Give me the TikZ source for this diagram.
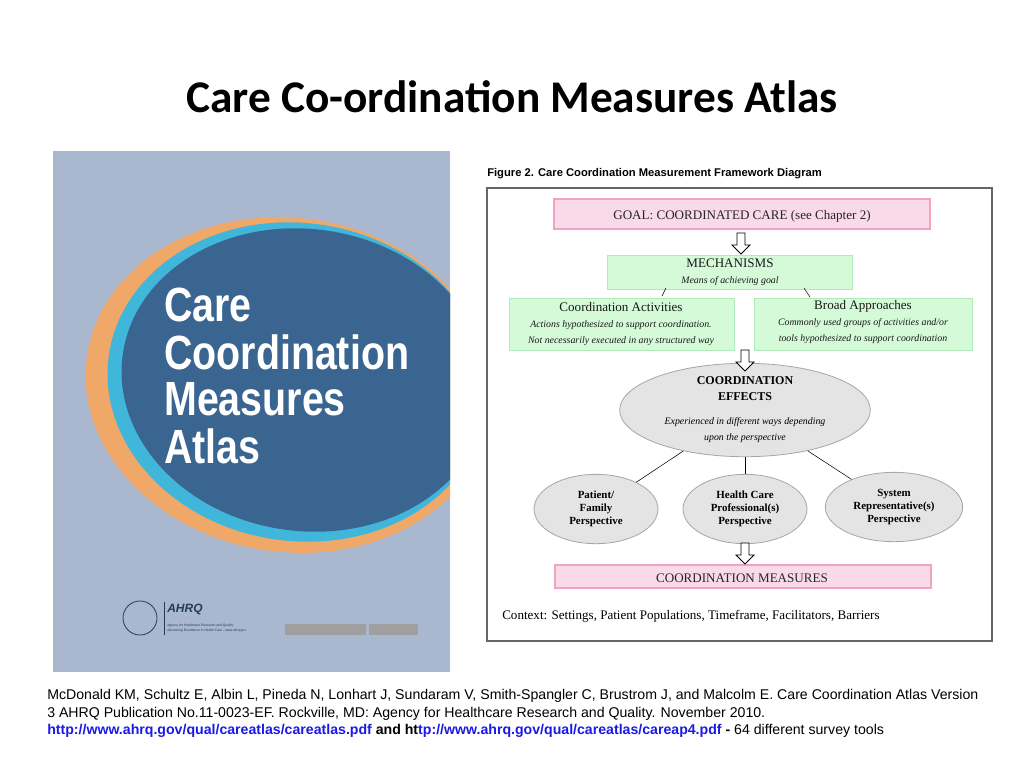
\documentclass[tikz,border=0pt]{standalone}
\usepackage{fontspec}
\setmainfont{Liberation Serif}
\newfontfamily\titlefont{Carlito}
\newfontfamily\arialfont{Liberation Sans}
\usetikzlibrary{shapes.geometric,arrows.meta}
\definecolor{coverbg}{HTML}{A9B7CF}
\definecolor{coverorange}{HTML}{F0A868}
\definecolor{covercyan}{HTML}{3FB6DA}
\definecolor{coverblue}{HTML}{3A6590}
\definecolor{pinkfill}{HTML}{FADAE8}
\definecolor{pinkline}{HTML}{F0A4C4}
\definecolor{greenfill}{HTML}{D4FAD8}
\definecolor{greenline}{HTML}{B0EAB8}
\definecolor{greyfill}{HTML}{E4E4E4}
\definecolor{linkblue}{HTML}{1A1AE6}
\tikzset{
  pinkbox/.style={draw=pinkline, fill=pinkfill, line width=0.8pt},
  greenbox/.style={draw=greenline, fill=greenfill, line width=0.6pt},
  effect/.style={ellipse, draw=gray!70, fill=greyfill, line width=0.6pt, align=center, font=\fontsize{8.2}{9.5}\selectfont\bfseries},
  downarrow/.style={draw=black, fill=white, line width=0.6pt},
  head/.style={font=\fontsize{9.8}{11}\selectfont}
}
\begin{document}
\begin{tikzpicture}[x=0.75pt, y=-0.75pt]
  \useasboundingbox[fill=white] (0,0) rectangle (1024,768);
  % --- title ---
  \node (title) at (512,97) {\titlefont\bfseries\fontsize{34}{38}\selectfont Care Co-ordination Measures Atlas};

  % --- report cover ---
  \begin{scope}
    \clip (53,151) rectangle (450,672);
    \fill[coverbg] (53,151) rectangle (450,672);
    \fill[coverorange, rotate around={-8:(290,385)}] (290,385) ellipse [x radius=205, y radius=167];
    \fill[covercyan, rotate around={-8:(298,382)}] (298,382) ellipse [x radius=191, y radius=159];
    \fill[coverblue, rotate around={-8:(305,380)}] (305,380) ellipse [x radius=184, y radius=151];
  \end{scope}
  \foreach \word [count=\i] in {Care,Coordination,Measures,Atlas}
    \node[anchor=west, white, font=\arialfont\bfseries\fontsize{36}{38}\selectfont, xscale=0.82, inner sep=0pt] (cover\i) at (164,258+47*\i) {\word};
  \draw[coverblue!60!black, line width=0.6pt] (140,618) circle (17);
  \draw[coverblue!60!black, line width=0.6pt] (164,602) -- (164,635);
  \node[anchor=west, coverblue!60!black, font=\arialfont\bfseries\itshape\fontsize{9}{10}\selectfont, inner sep=0pt] (ahrq) at (167,609) {AHRQ};
  \node[anchor=west, coverblue!60!black, font=\arialfont\fontsize{2.5}{4}\selectfont, align=left, inner sep=0pt] (agency) at (167,628) {Agency for Healthcare Research and Quality\\Advancing Excellence in Health Care - www.ahrq.gov};
  \fill[gray!75] (285,624) rectangle (366,635);
  \fill[gray!75] (369,624) rectangle (418,635);

  % --- framework diagram ---
  \node[anchor=west, font=\arialfont\bfseries\fontsize{8.4}{9}\selectfont, inner sep=0pt] (figtitle) at (487,174) {Figure 2. Care Coordination Measurement Framework Diagram};
  \draw[gray!80!black, line width=0.8pt] (487,188) rectangle (992,641);
  \draw[pinkbox] (554,199) rectangle (930,229);
  \node[head, gray!30!black] (goal) at (742,216) {GOAL: COORDINATED CARE (see Chapter 2)};
  \draw[greenbox] (607,255) rectangle (852,289);
  \node[align=center, gray!20!black, inner sep=0pt] (mech) at (730,272) {\fontsize{9.8}{11}\selectfont MECHANISMS\\\fontsize{7.4}{9}\selectfont\itshape Means of achieving goal};
  \draw[greenbox] (509,298) rectangle (734,350);
  \node[align=center, gray!20!black, inner sep=0pt] (activ) at (621,324) {\fontsize{9.8}{11}\selectfont Coordination Activities\\\fontsize{7.4}{9.5}\selectfont\itshape Actions hypothesized to support coordination.\\\fontsize{7.4}{9.5}\selectfont\itshape Not necessarily executed in any structured way};
  \draw[greenbox] (754,298) rectangle (972,350);
  \node[align=center, gray!20!black, inner sep=0pt] (broad) at (863,322) {\fontsize{9.8}{11}\selectfont Broad Approaches\\\fontsize{7.4}{9.5}\selectfont\itshape Commonly used groups of activities and/or\\\fontsize{7.4}{9.5}\selectfont\itshape tools hypothesized to support coordination};
  \draw (666,288) -- (662,296);
  \draw (804,288) -- (810,297);
  \node[effect, minimum width=188pt, minimum height=68pt, inner sep=0pt, font=\normalfont] (effects) at (745,410) {\fontsize{9}{10}\selectfont\bfseries COORDINATION\\\fontsize{9}{10}\selectfont\bfseries EFFECTS\\[6pt]\fontsize{7.4}{9.5}\selectfont\itshape Experienced in different ways depending\\\fontsize{7.4}{9.5}\selectfont\itshape upon the perspective};
  \node[effect, minimum width=93pt, minimum height=52pt, inner sep=0pt] (patient) at (596,509) {Patient/\\Family\\Perspective};
  \node[effect, minimum width=93pt, minimum height=52pt, inner sep=0pt] (prof) at (745,509) {Health Care\\Professional(s)\\Perspective};
  \node[effect, minimum width=103pt, minimum height=52pt, inner sep=0pt] (system) at (894,507) {System\\Representative(s)\\Perspective};
  \draw (effects) -- (patient);
  \draw (effects) -- (prof);
  \draw (effects) -- (system);
  \draw[pinkbox] (555,565) rectangle (931,588);
  \node[head, gray!30!black] (measures) at (742,578) {COORDINATION MEASURES};
  \node[anchor=west, font=\fontsize{9.8}{11}\selectfont, inner sep=0pt] (context) at (502,616) {Context: Settings, Patient Populations, Timeframe, Facilitators, Barriers};
  % hollow arrows
  \foreach \xa/\ya in {741/233, 745/350, 745/543}
    \draw[downarrow] (\xa-4,\ya) -- (\xa+4,\ya) -- (\xa+4,\ya+12) -- (\xa+9,\ya+12) -- (\xa,\ya+21) -- (\xa-9,\ya+12) -- (\xa-4,\ya+12) -- cycle;

  % --- citation ---
  \node[anchor=west, inner sep=0pt, align=left, font=\arialfont\fontsize{10.6}{13.2}\selectfont] (cite) at (47,705) {McDonald KM, Schultz E, Albin L, Pineda N, Lonhart J, Sundaram V, Smith-Spangler C, Brustrom J, and Malcolm E. Care Coordination Atlas Version\\3 AHRQ Publication No.11-0023-EF. Rockville, MD: Agency for Healthcare Research and Quality. November 2010.};
  \node[anchor=west, inner sep=0pt, font=\arialfont\fontsize{10.6}{12}\selectfont] (links) at (47,731) {{\color{linkblue}\bfseries http://www.ahrq.gov/qual/careatlas/careatlas.pdf} \textbf{and ht}{\color{linkblue}\bfseries tp://www.ahrq.gov/qual/careatlas/careap4.pdf} \textbf{-} 64 different survey tools};
\end{tikzpicture}
\end{document}
